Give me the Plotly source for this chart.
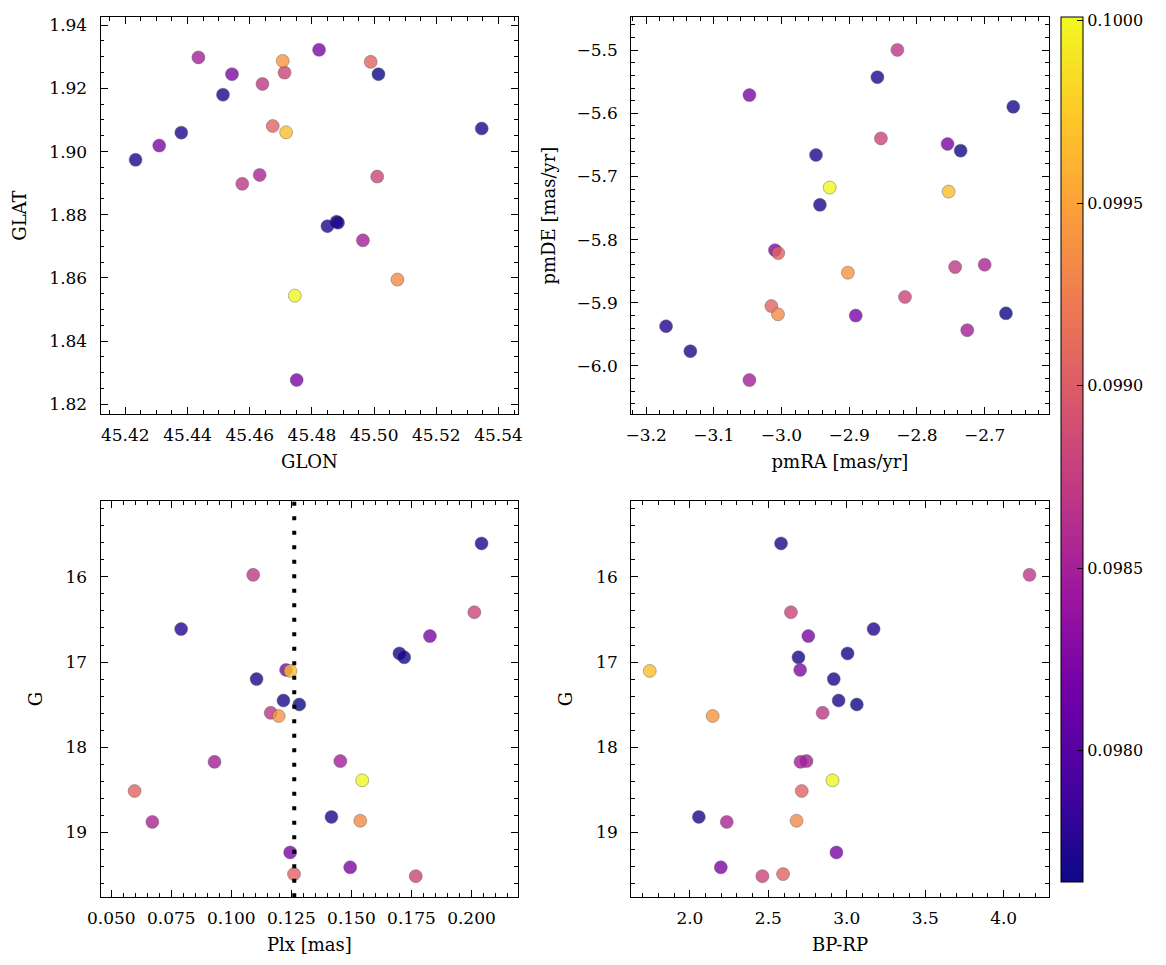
import plotly.graph_objects as go

# ---- data (one entry per star) ----
glon = [45.4233, 45.4576, 45.4712, 45.4380, 45.4309, 45.4879, 45.4884, 45.4543, 45.4717,
        45.4514, 45.4850, 45.5014, 45.4641, 45.4706, 45.4964, 45.4435, 45.4745, 45.4674,
        45.5346, 45.5075, 45.4632, 45.4751, 45.4823, 45.4989, 45.5010]
glat = [1.8974, 1.8898, 1.9250, 1.9060, 1.9019, 1.8778, 1.8775, 1.9245, 1.9061,
        1.9180, 1.8764, 1.9245, 1.9214, 1.9287, 1.8719, 1.9298, 1.8544, 1.9081,
        1.9073, 1.8595, 1.8926, 1.8277, 1.9322, 1.9284, 1.8921]
pmra = [-2.8584, -2.8289, -2.8532, -3.1705, -3.0474, -2.7355, -2.6578, -3.0096, -2.7533,
        -2.9491, -2.9433, -2.6686, -2.7436, -2.9020, -2.7257, -3.0474, -2.9288, -3.0150,
        -3.1346, -3.0052, -2.7000, -2.8904, -2.7548, -3.0048, -2.8177]
pmde = [-5.5427, -5.4995, -5.6397, -5.9371, -5.5711, -5.6591, -5.5896, -5.8166, -5.7239,
        -5.6659, -5.7449, -5.9166, -5.8434, -5.8523, -5.9434, -6.0224, -5.7175, -5.9051,
        -5.9766, -5.9182, -5.8397, -5.9202, -5.6485, -5.8213, -5.8908]
plx = [0.2042, 0.1091, 0.2012, 0.0791, 0.1827, 0.1700, 0.1720, 0.1228, 0.1246,
       0.1105, 0.1217, 0.1283, 0.1164, 0.1197, 0.1454, 0.0930, 0.1545, 0.0597,
       0.1417, 0.1537, 0.0671, 0.1245, 0.1495, 0.1261, 0.1768]
gmag = [15.608, 15.977, 16.416, 16.613, 16.695, 16.899, 16.944, 17.092, 17.104,
        17.200, 17.451, 17.498, 17.596, 17.633, 18.162, 18.171, 18.388, 18.513,
        18.817, 18.862, 18.876, 19.234, 19.408, 19.488, 19.512]
bprp = [2.581, 4.165, 2.644, 3.171, 2.755, 3.005, 2.692, 2.703, 1.744,
        2.917, 2.948, 3.064, 2.846, 2.145, 2.743, 2.705, 2.909, 2.713,
        2.057, 2.680, 2.235, 2.934, 2.197, 2.594, 2.462]
cval = [0.09771, 0.09870, 0.09882, 0.09773, 0.09823, 0.09766, 0.09768, 0.09825, 0.09967,
        0.09771, 0.09772, 0.09764, 0.09870, 0.09941, 0.09849, 0.09849, 0.10000, 0.09906,
        0.09771, 0.09934, 0.09854, 0.09821, 0.09823, 0.09906, 0.09882]
plx_line = 0.1262

CMIN, CMAX = 0.09764, 0.10001
FONT = "DejaVu Serif"
OFF = 8                      # default page body margin
W, H = 1166 - 2 * OFF, 965 - 2 * OFF

def px_x(p):
    return (p - OFF) / W

def px_y(p):
    return 1 - (p - OFF) / H

def marker(show_scale=False):
    m = dict(color=cval, colorscale="Plasma", cmin=CMIN, cmax=CMAX, size=13,
             opacity=0.8, line=dict(width=0.5, color="rgba(60,60,60,0.9)"))
    if show_scale:
        m["showscale"] = True
        m["colorbar"] = dict(
            thickness=22, x=px_x(1064), xanchor="left", xpad=0,
            y=px_y(882), yanchor="bottom", len=867 / H, lenmode="fraction", ypad=0,
            outlinewidth=1, outlinecolor="black",
            ticks="inside", ticklen=6, tickwidth=1, tickcolor="black",
            tick0=0.098, dtick=0.0005, tickformat=".4f",
            tickfont=dict(family=FONT, size=16, color="black"))
    return m

fig = go.Figure()
fig.add_trace(go.Scatter(x=glon, y=glat, mode="markers", marker=marker(True),
                         xaxis="x", yaxis="y", showlegend=False))
fig.add_trace(go.Scatter(x=pmra, y=pmde, mode="markers", marker=marker(),
                         xaxis="x2", yaxis="y2", showlegend=False))
fig.add_trace(go.Scatter(x=plx, y=gmag, mode="markers", marker=marker(),
                         xaxis="x3", yaxis="y3", showlegend=False))
fig.add_trace(go.Scatter(x=bprp, y=gmag, mode="markers", marker=marker(),
                         xaxis="x4", yaxis="y4", showlegend=False))

fig.add_shape(type="line", xref="x3", yref="y3 domain", x0=plx_line, x1=plx_line,
              y0=0, y1=1, line=dict(color="black", width=4, dash="4px,10.5px"))

def ax(domain, rng, tick0, dtick, minor, fmt, title, anchor, standoff, lab_off):
    return dict(domain=domain, range=list(rng), anchor=anchor, tick0=tick0, dtick=dtick,
                tickformat=fmt, showline=True, linecolor="black", linewidth=1.3,
                mirror="allticks", ticks="inside", ticklen=7, tickwidth=1.2,
                tickcolor="black", showgrid=False, zeroline=False,
                ticklabelstandoff=lab_off,
                minor=dict(ticks="inside", ticklen=3.5, tickwidth=1, tickcolor="black",
                           dtick=minor, showgrid=False),
                tickfont=dict(family=FONT, size=17, color="black"),
                title=dict(text=title, font=dict(family=FONT, size=18, color="black"),
                           standoff=standoff))

xL = [px_x(88), px_x(512)]
xR = [px_x(627), px_x(1051)]
yT = [px_y(413), px_y(15)]
yB = [px_y(897), px_y(500)]

fig.update_layout(
    width=W, height=H, margin=dict(l=0, r=0, t=0, b=0),
    paper_bgcolor="white", plot_bgcolor="white",
    xaxis=ax(xL, (45.4121, 45.5463), 45.42, 0.02, 0.005, ".2f", "GLON", "y", 11, 5),
    yaxis=ax(yT, (1.8169, 1.9426), 1.82, 0.02, 0.005, ".2f", "GLAT", "x", 18, 9),
    xaxis2=ax(xR, (-3.2218, -2.6055), -3.2, 0.1, 0.02, ".1f", "pmRA [mas/yr]", "y2", 11, 5),
    yaxis2=ax(yT, (-6.0763, -5.4474), -6.0, 0.1, 0.02, ".1f", "pmDE [mas/yr]", "x2", 16, 9),
    xaxis3=ax(xL, (0.04561, 0.21943), 0.05, 0.025, 0.005, ".3f", "Plx [mas]", "y3", 11, 5),
    yaxis3=ax(yB, (19.758, 15.110), 16, 1, 0.2, "d", "G", "x3", 18, 9),
    xaxis4=ax(xR, (1.6265, 4.287), 2.0, 0.5, 0.1, ".1f", "BP-RP", "y4", 11, 5),
    yaxis4=ax(yB, (19.758, 15.110), 16, 1, 0.2, "d", "G", "x4", 18, 9),
)

fig.write_html("out.html")
